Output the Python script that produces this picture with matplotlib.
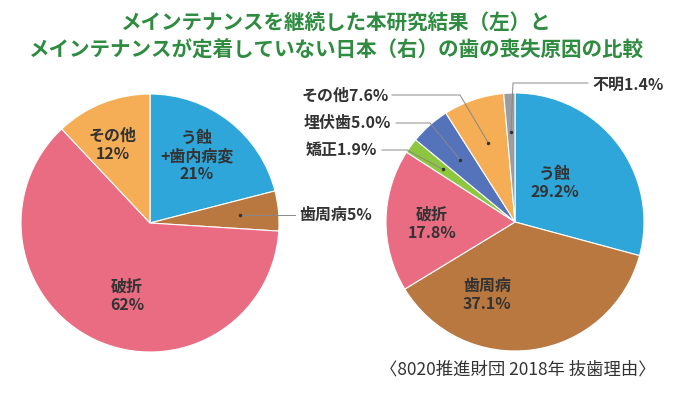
import matplotlib
matplotlib.use("Agg")
import matplotlib.pyplot as plt
import math

plt.rcParams['font.family'] = ['Noto Sans CJK JP', 'DejaVu Sans']

title_lines = ["メインテナンスを継続した本研究結果（左）と",
               "メインテナンスが定着していない日本（右）の歯の喪失原因の比較"]
left_labels = ["う蝕\n+歯内病変", "歯周病", "破折", "その他"]
left_values = [21, 5, 62, 12]
right_labels = ["う蝕", "歯周病", "破折", "矯正", "埋伏歯", "その他", "不明"]
right_values = [29.2, 37.1, 17.8, 1.9, 5.0, 7.6, 1.4]
source_text = "〈8020推進財団 2018年 抜歯理由〉"

left_colors = ["#2FA6DA", "#B87840", "#E96C83", "#F5AE56"]
right_colors = ["#2FA6DA", "#B87840", "#E96C83", "#8DC63F", "#5573BB", "#F5AE56", "#9A9EA2"]

W, H = 673, 393
fig = plt.figure(figsize=(W / 100, H / 100), dpi=100)
ax = fig.add_axes([0, 0, 1, 1])

LC = (150, 223); LR = 129
RC = (515, 222); RR = 129

wp = dict(edgecolor="white", linewidth=0.8)
ax.pie(left_values, colors=left_colors, center=LC, radius=LR,
       startangle=-90, counterclock=True, wedgeprops=wp, frame=True)
ax.pie(right_values, colors=right_colors, center=RC, radius=RR,
       startangle=-90, counterclock=True, wedgeprops=wp, frame=True)
ax.set_xlim(0, W)
ax.set_ylim(H, 0)
ax.set_aspect('equal')
ax.axis('off')


def mid_point(values, idx, center, r, frac):
    tot = sum(values)
    before = sum(values[:idx])
    mid = (before + values[idx] / 2) / tot * 360.0
    a = math.radians(mid)
    return center[0] + frac * r * math.sin(a), center[1] - frac * r * math.cos(a)


tc = "#333333"
fs = 11.5
lc = "#888888"
# Title
ax.text(W / 2, 22, title_lines[0], ha='center', va='center', fontsize=14.8,
        color="#2E8B3F", fontweight='bold')
ax.text(W / 2, 50, title_lines[1], ha='center', va='center', fontsize=14.8,
        color="#2E8B3F", fontweight='bold')

# Left pie labels
ax.text(197, 156, left_labels[0] + "\n%d%%" % left_values[0], ha='center', va='center',
        fontsize=fs, color=tc, fontweight='bold', linespacing=1.15)
ax.text(113, 145, left_labels[3] + "\n%d%%" % left_values[3], ha='center', va='center',
        fontsize=fs, color=tc, fontweight='bold', linespacing=1.15)
ax.text(127, 296, left_labels[2] + "\n%d%%" % left_values[2], ha='center', va='center',
        fontsize=fs, color=tc, fontweight='bold', linespacing=1.15)
dx, dy = mid_point(left_values, 1, LC, LR, 0.7)
ax.plot([dx, 295], [dy, dy], color=lc, lw=0.7)
ax.plot([dx], [dy], marker='o', ms=1.5, color="#333333")
ax.text(299, dy, "%s%d%%" % (left_labels[1], left_values[1]), ha='left', va='center',
        fontsize=fs, color=tc, fontweight='bold')

# Right pie inner labels
ax.text(555, 183, "%s\n%.1f%%" % (right_labels[0], right_values[0]), ha='center', va='center',
        fontsize=fs, color=tc, fontweight='bold', linespacing=1.15)
ax.text(487, 295, "%s\n%.1f%%" % (right_labels[1], right_values[1]), ha='center', va='center',
        fontsize=fs, color=tc, fontweight='bold', linespacing=1.15)
ax.text(432, 224, "%s\n%.1f%%" % (right_labels[2], right_values[2]), ha='center', va='center',
        fontsize=fs, color=tc, fontweight='bold', linespacing=1.15)

# Right pie outer labels with leaders
px, py = mid_point(right_values, 3, RC, RR, 0.69)
ax.plot([px, 407, 382], [py, 150, 150], color=lc, lw=0.7)
ax.plot([px], [py], marker='o', ms=1.5, color="#333333")
ax.text(377, 150, "%s%.1f%%" % (right_labels[3], right_values[3]), ha='right', va='center',
        fontsize=fs, color=tc, fontweight='bold')

px, py = mid_point(right_values, 4, RC, RR, 0.64)
ax.plot([px, 430, 396], [py, 123, 123], color=lc, lw=0.7)
ax.plot([px], [py], marker='o', ms=1.5, color="#333333")
ax.text(391, 123, "%s%.1f%%" % (right_labels[4], right_values[4]), ha='right', va='center',
        fontsize=fs, color=tc, fontweight='bold')

px, py = mid_point(right_values, 5, RC, RR, 0.65)
ax.plot([px, 460, 392], [py, 95, 95], color=lc, lw=0.7)
ax.plot([px], [py], marker='o', ms=1.5, color="#333333")
ax.text(389, 96, "%s%.1f%%" % (right_labels[5], right_values[5]), ha='right', va='center',
        fontsize=fs, color=tc, fontweight='bold')

px, py = mid_point(right_values, 6, RC, RR, 0.70)
ax.plot([px, 513, 588], [py, 83, 83], color=lc, lw=0.7)
ax.plot([px], [py], marker='o', ms=1.5, color="#333333")
ax.text(592, 85, "%s%.1f%%" % (right_labels[6], right_values[6]), ha='left', va='center',
        fontsize=fs, color=tc, fontweight='bold')

# Source
ax.text(656, 370, source_text, ha='right', va='center', fontsize=12.5, color=tc)

fig.savefig("out.png", dpi=100)
